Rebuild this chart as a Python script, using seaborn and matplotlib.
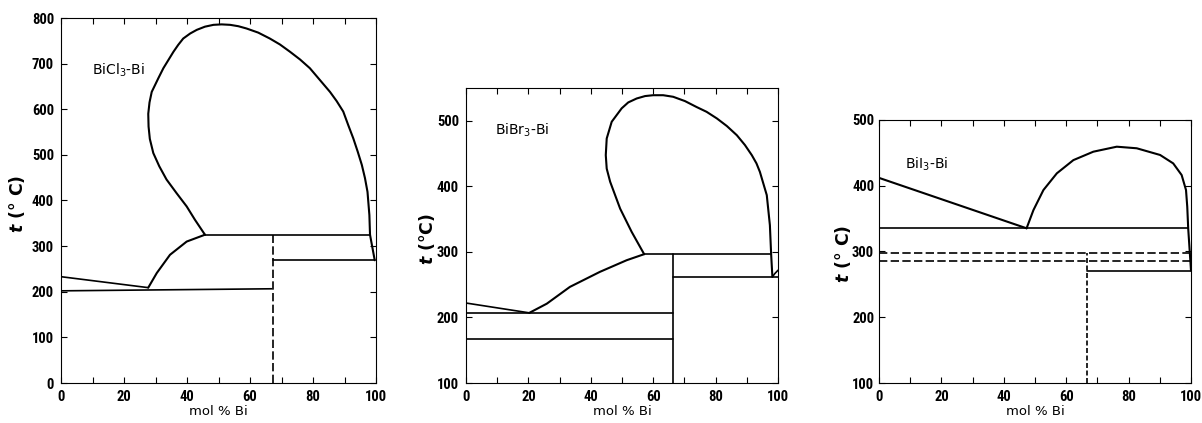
import matplotlib
matplotlib.use("Agg")
import matplotlib.pyplot as plt
import seaborn as sns
from matplotlib import font_manager
from matplotlib.ticker import MultipleLocator

# ---------------- BiCl3 - Bi  (composition in mol % Bi, temperature in °C)
cl_liq_x = [0, 27.7]
cl_liq_t = [233, 209]
cl_eut_x = [0, 66.9]
cl_eut_t = [202, 206.5]
cl_rise_x = [27.7, 30.4, 34.6, 39.9, 45.7]
cl_rise_t = [209, 241, 281, 310, 325]
cl_mono_x = [45.7, 98.1]
cl_mono_t = [325, 325]
cl_dome_x = [45.7, 42.5, 39.9, 36.7, 33.5, 31.2, 29.3, 28.2, 27.8, 27.7,
             28.1, 28.8, 30.9, 32.5, 34.1, 35.7, 37.2, 38.8, 41.0, 43.1,
             45.7, 48.4, 51.0, 53.7, 56.3, 58.9, 62.6, 66.3, 69.5, 72.7,
             75.9, 79.0, 82.2, 85.4, 87.5, 89.6, 91.2, 92.8, 94.2, 95.5,
             96.5, 97.3, 97.9, 98.1]
cl_dome_t = [325, 358, 387, 416, 446, 475, 504, 535, 562, 590,
             615, 638, 668, 690, 708, 726, 741, 755, 766, 774,
             781, 785, 786, 785, 782, 777, 768, 755, 742, 726,
             709, 690, 664, 638, 618, 595, 565, 536, 507, 478,
             449, 419, 368, 325]
cl_tail_x = [98.1, 99.6]
cl_tail_t = [325, 269]
cl_bi_x = [67.2, 99.8]
cl_bi_t = [269, 269]
cl_comp_x = [67.2, 67.2]
cl_comp_t = [0, 325]

# ---------------- BiBr3 - Bi
br_liq_x = [0, 20.3]
br_liq_t = [222, 207]
br_eut_x = [0, 66.5]
br_eut_t = [207, 207]
br_low_x = [0, 66.5]
br_low_t = [167, 167]
br_rise_x = [20.3, 25.9, 33.3, 42.9, 51.5, 57.1]
br_rise_t = [207, 221, 246.6, 269.5, 287.3, 296.5]
br_mono_x = [57.1, 97.8]
br_mono_t = [296.5, 296.5]
br_dome_x = [57.1, 53.1, 49.4, 46.2, 45.1, 44.8, 45.1, 46.7, 49.9, 52.0,
             54.7, 57.4, 60.0, 63.2, 66.4, 70.2, 73.9, 77.1, 80.4, 83.6,
             86.8, 89.4, 91.6, 93.1, 94.2, 96.4, 97.4, 97.8, 98.2]
br_dome_t = [296.5, 330.5, 366, 407, 427, 447.6, 473, 498.5, 519, 528,
             534, 537.7, 539, 539, 536.6, 530, 521, 513.7, 503.6, 492,
             478, 463, 447.6, 435, 422, 386.6, 340.8, 296.5, 262]
br_hook_x = [98.2, 99.0, 100]
br_hook_t = [262, 267, 272]
br_bi_x = [66.5, 100]
br_bi_t = [262, 262]
br_comp_x = [66.5, 66.5]
br_comp_t = [100, 296.5]

# ---------------- BiI3 - Bi
i_liq_x = [0, 47.3]
i_liq_t = [412, 335.3]
i_mono_x = [0, 99.1]
i_mono_t = [335.3, 335.3]
i_dome_x = [47.3, 49.5, 52.7, 57.0, 62.3, 68.7, 76.2, 82.6, 90.1, 94.3,
            97.0, 98.4, 98.8, 99.1, 100]
i_dome_t = [335.3, 363, 393.5, 418.9, 439, 451.8, 459.4, 457, 446.8, 434,
            416.3, 393.5, 368, 335.3, 271]
i_tr1_x = [0, 100]
i_tr1_t = [298, 298]
i_tr2_x = [0, 100]
i_tr2_t = [285.6, 285.6]
i_bi_x = [66.6, 100]
i_bi_t = [271, 271]
i_comp_x = [66.6, 66.6]
i_comp_t = [100, 298]

panel_names = ["BiCl$_3$-Bi", "BiBr$_3$-Bi", "BiI$_3$-Bi"]
panel_ylims = [(0, 800), (100, 550), (100, 500)]
panel_yticks = [list(range(0, 801, 100)), list(range(100, 501, 100)),
                list(range(100, 501, 100))]
xticks = [0, 20, 40, 60, 80, 100]
ylabels = ["$t$ (° C)", "$t$ (°C)", "$t$ (° C)"]

# ---------------------------------------------------------------- styling
sns.set_style("ticks")
installed = {f.name for f in font_manager.fontManager.ttflist}
narrow = [n for n in ["Liberation Sans Narrow", "DejaVu Sans Condensed",
                      "Roboto Condensed", "Open Sans Condensed"]
          if n in installed]
tick_family = narrow + ["DejaVu Sans"]
tick_size = 10.5 if narrow else 8.5
plt.rcParams["font.family"] = ["DejaVu Sans"]
plt.rcParams["mathtext.fontset"] = "custom"
plt.rcParams["mathtext.rm"] = "DejaVu Sans"
plt.rcParams["mathtext.it"] = "DejaVu Sans:italic:bold"
plt.rcParams["axes.linewidth"] = 0.8

styles = {
    "solid": dict(lw=1.2, linestyle="-"),
    "dome": dict(lw=1.5, linestyle="-"),
    "dash": dict(lw=1.2, linestyle=(0, (5, 2))),
    "fine": dict(lw=1.2, linestyle=(0, (3, 1.5))),
}

segments = [
    [(cl_liq_x, cl_liq_t, "solid"), (cl_eut_x, cl_eut_t, "solid"),
     (cl_rise_x, cl_rise_t, "dome"), (cl_mono_x, cl_mono_t, "solid"),
     (cl_dome_x, cl_dome_t, "dome"), (cl_tail_x, cl_tail_t, "dome"),
     (cl_bi_x, cl_bi_t, "solid"), (cl_comp_x, cl_comp_t, "dash")],
    [(br_liq_x, br_liq_t, "solid"), (br_eut_x, br_eut_t, "solid"),
     (br_low_x, br_low_t, "solid"), (br_rise_x, br_rise_t, "dome"),
     (br_mono_x, br_mono_t, "solid"), (br_dome_x, br_dome_t, "dome"),
     (br_hook_x, br_hook_t, "solid"), (br_bi_x, br_bi_t, "solid"),
     (br_comp_x, br_comp_t, "solid")],
    [(i_liq_x, i_liq_t, "dome"), (i_mono_x, i_mono_t, "solid"),
     (i_dome_x, i_dome_t, "dome"), (i_tr1_x, i_tr1_t, "dash"),
     (i_tr2_x, i_tr2_t, "dash"), (i_bi_x, i_bi_t, "solid"),
     (i_comp_x, i_comp_t, "fine")],
]

W, H = 1202, 423
fig = plt.figure(figsize=(W / 100, H / 100), dpi=100)
boxes = [(61, 40, 315, 365), (466, 40, 312, 295), (879, 40, 312, 263)]
label_pos = [(9.8, 686), (9.3, 486), (8.4, 432)]
ylabel_x = [-0.108, -0.092, -0.082]
ytick_pad = [5, 5, 3.5]

for i, (l, b, w, h) in enumerate(boxes):
    ax = fig.add_axes([l / W, b / H, w / W, h / H])
    for xs, ts, st in segments[i]:
        sns.lineplot(x=xs, y=ts, ax=ax, sort=False, estimator=None,
                     color="black", **styles[st])
    ax.set_xlim(0, 100)
    ax.set_ylim(*panel_ylims[i])
    ax.set_xticks(xticks)
    ax.xaxis.set_minor_locator(MultipleLocator(10))
    ax.set_yticks(panel_yticks[i])
    ax.tick_params(which="both", direction="in", top=True, right=True,
                   length=4.5, width=0.8, color="black")
    ax.tick_params(axis="x", which="major", pad=5)
    ax.tick_params(axis="y", which="major", pad=ytick_pad[i])
    for lab in ax.get_xticklabels() + ax.get_yticklabels():
        lab.set_fontfamily(tick_family)
        lab.set_fontsize(tick_size)
        lab.set_fontweight("bold")
        lab.set_color("black")
    for sp in ax.spines.values():
        sp.set_color("black")
    ax.set_xlabel("mol % Bi", fontsize=9.5, labelpad=1, color="black")
    ax.set_ylabel(ylabels[i], fontsize=12.5, fontweight="bold", color="black")
    ax.yaxis.set_label_coords(ylabel_x[i], 0.49)
    ax.text(label_pos[i][0], label_pos[i][1], panel_names[i], fontsize=10,
            va="center", ha="left", color="black")
    ax.grid(False)

fig.savefig("out.png", dpi=100, facecolor="white")
